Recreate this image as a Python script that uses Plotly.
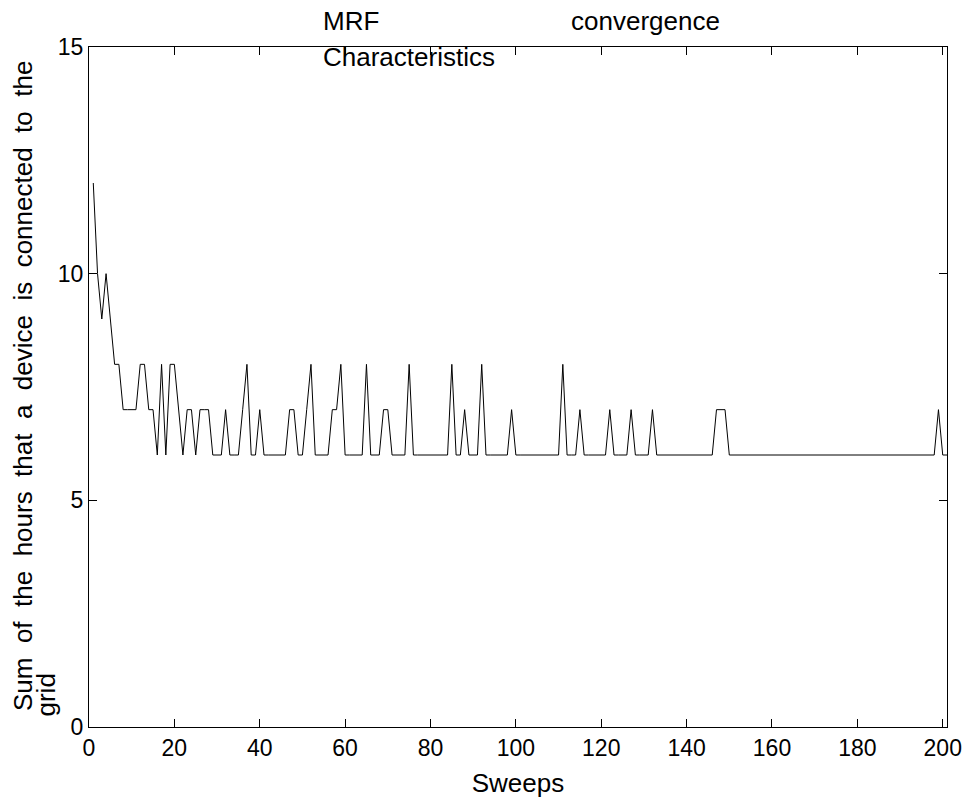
import plotly.graph_objects as go

sweeps = list(range(1, 202))
values = [
    12, 10, 9, 10, 9, 8, 8, 7, 7, 7,        # 1-10
    7, 8, 8, 7, 7, 6, 8, 6, 8, 8,           # 11-20
    7, 6, 7, 7, 6, 7, 7, 7, 6, 6,           # 21-30
    6, 7, 6, 6, 6, 7, 8, 6, 6, 7,           # 31-40
    6, 6, 6, 6, 6, 6, 7, 7, 6, 6,           # 41-50
    7, 8, 6, 6, 6, 6, 7, 7, 8, 6,           # 51-60
    6, 6, 6, 6, 8, 6, 6, 6, 7, 7,           # 61-70
    6, 6, 6, 6, 8, 6, 6, 6, 6, 6,           # 71-80
    6, 6, 6, 6, 8, 6, 6, 7, 6, 6,           # 81-90
    6, 8, 6, 6, 6, 6, 6, 6, 7, 6,           # 91-100
    6, 6, 6, 6, 6, 6, 6, 6, 6, 6,           # 101-110
    8, 6, 6, 6, 7, 6, 6, 6, 6, 6,           # 111-120
    6, 7, 6, 6, 6, 6, 7, 6, 6, 6,           # 121-130
    6, 7, 6, 6, 6, 6, 6, 6, 6, 6,           # 131-140
    6, 6, 6, 6, 6, 6, 7, 7, 7, 6,           # 141-150
    6, 6, 6, 6, 6, 6, 6, 6, 6, 6,           # 151-160
    6, 6, 6, 6, 6, 6, 6, 6, 6, 6,           # 161-170
    6, 6, 6, 6, 6, 6, 6, 6, 6, 6,           # 171-180
    6, 6, 6, 6, 6, 6, 6, 6, 6, 6,           # 181-190
    6, 6, 6, 6, 6, 6, 6, 6, 7, 6,           # 191-200
    6,                                       # 201
]
x_ticks = [0, 20, 40, 60, 80, 100, 120, 140, 160, 180, 200]
y_ticks = [0, 5, 10, 15]

title_line1_left = "MRF"
title_line1_right = "convergence"
title_line2 = "Characteristics"
x_title = "Sweeps"
y_title_line1 = "Sum  of  the  hours  that  a  device  is  connected  to  the"
y_title_line2 = "grid"

W, H = 971, 800
L, R, T, B = 89, 24, 47, 73
PW, PH = W - L - R, H - T - B

def px(xp):
    return (xp - L) / PW

def py(yp):
    return (H - B - yp) / PH

FONT = "Liberation Sans, Arial, Helvetica, sans-serif"

fig = go.Figure()
fig.add_trace(go.Scatter(x=sweeps, y=values, mode="lines",
                         line=dict(color="black", width=1), showlegend=False))

axis_common = dict(showline=True, linecolor="black", linewidth=1, mirror="ticks",
                   ticks="inside", ticklen=8, tickwidth=1, tickcolor="black",
                   showgrid=False, zeroline=False, automargin=False,
                   tickfont=dict(family=FONT, size=23, color="black"))

fig.update_xaxes(range=[0, 201], tickvals=x_ticks, ticktext=[str(v) for v in x_ticks],
                 title=dict(text=x_title, font=dict(family=FONT, size=26, color="black"),
                            standoff=14),
                 **axis_common)
fig.update_yaxes(range=[0, 15], tickvals=y_ticks, ticktext=[str(v) for v in y_ticks],
                 **axis_common)

annotations = [
    dict(text=title_line1_left, x=px(321), y=py(21), xanchor="left", yanchor="middle"),
    dict(text=title_line1_right, x=px(569), y=py(21), xanchor="left", yanchor="middle"),
    dict(text=title_line2, x=px(321), y=py(57), xanchor="left", yanchor="middle"),
    dict(text=y_title_line1, x=px(23), y=py(713), xanchor="center", yanchor="bottom",
         textangle=-90),
    dict(text=y_title_line2, x=px(45), y=py(719), xanchor="center", yanchor="bottom",
         textangle=-90),
]
for a in annotations:
    a.update(xref="paper", yref="paper", showarrow=False,
             font=dict(family=FONT, size=26, color="black"))
fig.update_layout(annotations=annotations)

fig.update_layout(width=W, height=H, margin=dict(l=L, r=R, t=T, b=B, pad=0,
                                                 autoexpand=False),
                  paper_bgcolor="white", plot_bgcolor="white",
                  font=dict(family=FONT, color="black"))

fig.write_html("out.html")
